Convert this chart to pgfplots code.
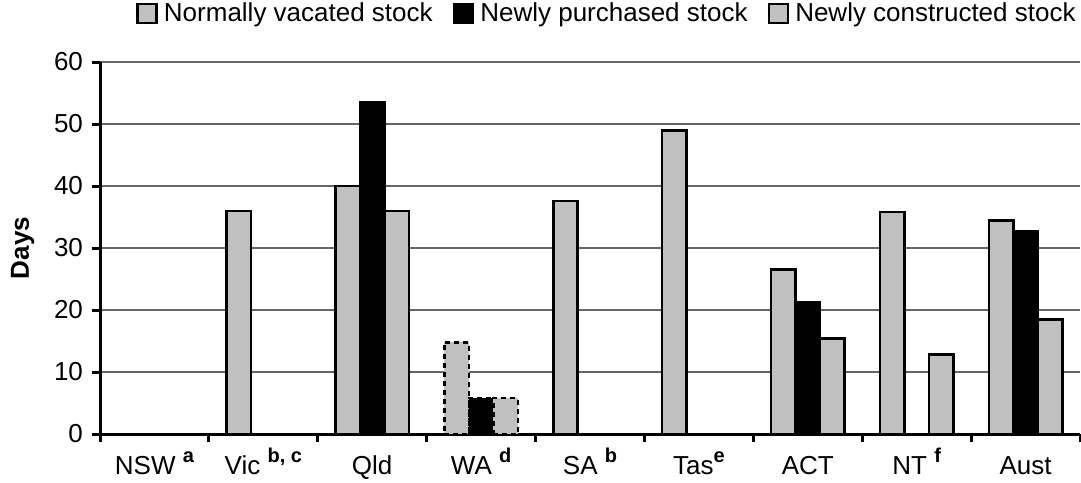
\documentclass[border=0pt]{standalone}
\usepackage{pgfplots}
\pgfplotsset{compat=1.18}
\usepackage{fontspec}
\setmainfont{Liberation Sans}
\definecolor{bargray}{RGB}{192,192,192}
\newcommand{\sups}[1]{\raisebox{0.45em}{\fontsize{10}{12}\selectfont\bfseries #1}}
\begin{document}
\begin{tikzpicture}
\begin{axis}[
  scale only axis, width=490pt, height=186pt,
  xmin=-0.5, xmax=8.5, ymin=0, ymax=60,
  axis x line*=bottom, axis y line*=left,
  axis line style={line width=1.5pt, -},
  xtick={0,...,8},
  xticklabels={NSW \sups{a}, Vic \sups{b, c}, Qld, WA \sups{d}, SA \sups{b}, Tas\sups{e}, ACT, NT \sups{f}, Aust},
  major x tick style={draw=none},
  minor xtick={-0.5,0.5,...,8.5},
  minor x tick style={line width=1.5pt, black},
  tick align=outside, minor tick length=4pt, major tick length=4pt,
  ytick={0,10,...,60},
  y tick style={line width=1.5pt, black},
  ymajorgrids, grid style={black!60, line width=0.7pt},
  tick label style={font=\fontsize{13}{15}\selectfont},
  /pgf/number format/assume math mode=true,
  xticklabel style={yshift=-5pt, anchor=north, text height=0.75em, text depth=0.22em},
  yticklabel style={xshift=-1pt},
  ylabel={Days},
  ylabel style={font=\fontsize{13}{15}\selectfont\bfseries, at={(axis description cs:-0.079,0.5)}, anchor=center},
  ybar=0pt, bar width=0.225,
  legend columns=3,
  legend style={draw=none, at={(1,1)}, anchor=south east, xshift=1pt, yshift=17pt, font=\fontsize{13}{15}\selectfont,
    inner sep=0pt, nodes={inner xsep=3pt, inner ysep=1.5pt}, /tikz/every even column/.append style={column sep=7pt}},
  legend cell align=left,
  legend image code/.code={\draw[#1] (0pt,-4.75pt) rectangle (9.5pt,4.75pt);},
]
\addplot[fill=bargray, draw=black, line width=1.3pt, bar shift=-0.225] coordinates {(1,36) (2,40) (4,37.6) (5,49) (6,26.5) (7,35.8) (8,34.4)};
\addlegendentry{Normally vacated stock}
\addplot[fill=black, draw=black, line width=1.3pt, bar shift=0] coordinates {(2,53.5) (6,21.2) (8,32.7)};
\addlegendentry{Newly purchased stock}
\addplot[fill=bargray, draw=black, line width=1.3pt, bar shift=0.225] coordinates {(2,36) (6,15.4) (7,12.8) (8,18.5)};
\addlegendentry{Newly constructed stock}
\addplot[fill=bargray, draw=black, line width=1.3pt, dash pattern=on 2.5pt off 2pt, bar shift=-0.225, forget plot] coordinates {(3,14.8)};
\addplot[fill=black, draw=black, line width=1.3pt, dash pattern=on 2.5pt off 2pt, bar shift=0, forget plot] coordinates {(3,5.8)};
\addplot[fill=bargray, draw=black, line width=1.3pt, dash pattern=on 2.5pt off 2pt, bar shift=0.225, forget plot] coordinates {(3,5.8)};
\end{axis}
\pgfresetboundingbox
\path ([xshift=-50pt,yshift=-24pt]current axis.south west) rectangle ([xshift=0.5pt,yshift=31pt]current axis.north east);
\end{tikzpicture}
\end{document}
